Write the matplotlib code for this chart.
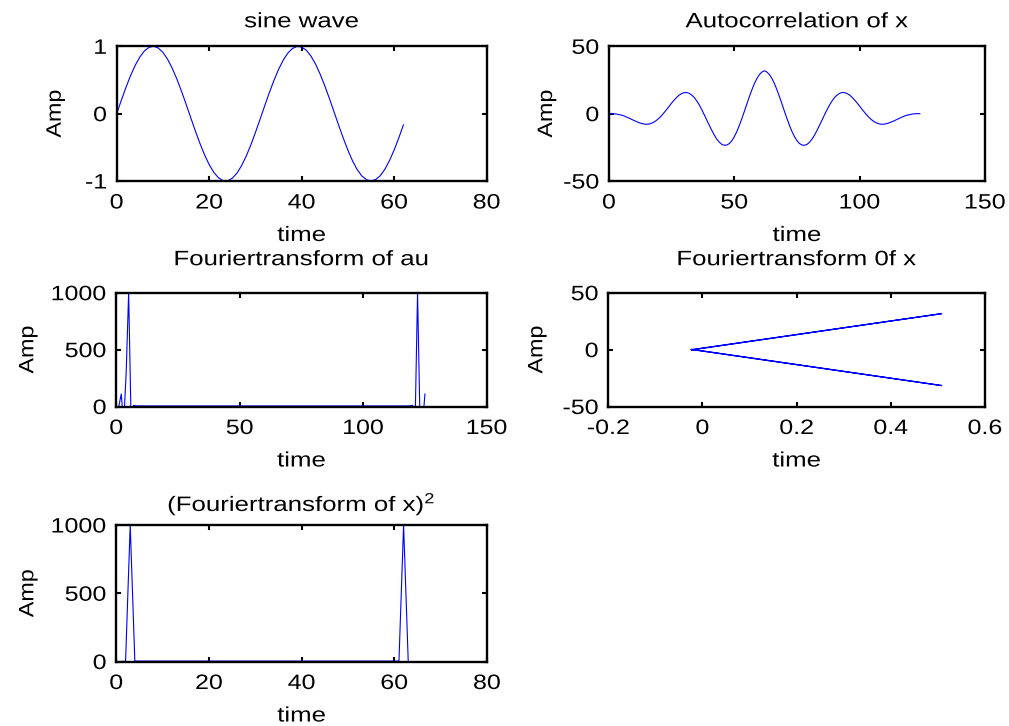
import matplotlib
matplotlib.use("Agg")
import matplotlib.pyplot as plt
from matplotlib.patheffects import AbstractPathEffect
from matplotlib.transforms import Affine2D

plt.rcParams['font.family'] = ['Liberation Sans', 'DejaVu Sans']
plt.rcParams['mathtext.default'] = 'regular'

# ---------------- data ----------------
# sine wave (samples 0..62)
sine_t = list(range(63))
sine_x = [0.0, 0.199, 0.389, 0.565, 0.717, 0.841, 0.932, 0.985, 1.0, 0.974,
          0.909, 0.808, 0.675, 0.516, 0.335, 0.141, -0.058, -0.256, -0.443, -0.612,
          -0.757, -0.872, -0.952, -0.994, -0.996, -0.959, -0.883, -0.772, -0.631, -0.465,
          -0.279, -0.083, 0.117, 0.312, 0.494, 0.657, 0.794, 0.899, 0.968, 0.998,
          0.989, 0.941, 0.855, 0.735, 0.585, 0.412, 0.223, 0.025, -0.174, -0.366,
          -0.544, -0.703, -0.831, -0.925, -0.981, -0.999, -0.978, -0.920, -0.823, -0.694,
          -0.537, -0.358, -0.166]

# autocorrelation, lags 0..62 (symmetric)
au_half = [31.8, 30.9, 29.0, 26.1, 22.3, 17.7, 12.6, 7.2, 1.7, -3.7,
           -8.7, -13.3, -17.1, -20.1, -22.2, -23.3, -23.5, -22.8, -21.2, -18.9,
           -15.9, -12.4, -8.6, -4.7, -0.8, 3.0, 6.5, 9.5, 12.0, 13.8,
           15.1, 15.7, 15.6, 14.9, 13.8, 12.1, 10.1, 7.9, 5.5, 3.1,
           0.8, -1.4, -3.3, -4.9, -6.2, -7.1, -7.7, -7.9, -7.7, -7.3,
           -6.7, -5.9, -5.1, -4.2, -3.3, -2.5, -1.7, -1.1, -0.7, -0.3,
           -0.1, 0.0, 0.0]
au = au_half[::-1][:-1] + au_half
au_t = list(range(len(au)))

# Fourier transform of the autocorrelation (125 bins, index 1..125)
fau_head = [0, 110, -150, 300, 1000, -150, 10, 6]
fau_mid_level = 5
fau_tail = [6, 10, -150, 1000, -150, -150, 110]
fau = fau_head + [fau_mid_level] * (125 - len(fau_head) - len(fau_tail)) + fau_tail
fau_t = list(range(1, 126))

# Fourier transform of x plotted as real vs imaginary part
fx_re = [-0.023, -0.022, 0.508, -0.024, -0.023, -0.023, -0.024, 0.508, -0.022, -0.023]
fx_im = [0.0, 0.2, -31.6, 0.1, 0.0, 0.0, -0.1, 31.6, -0.2, 0.0]

# squared magnitude of FFT of x (63 bins, index 1..63)
fx2_head = [0, 2, 1000, 3]
fx2_mid_level = 3
fx2_tail = [3, 1000, 1]
fx2 = fx2_head + [fx2_mid_level] * (63 - len(fx2_head) - len(fx2_tail)) + fx2_tail
fx2_t = list(range(1, 64))


# ---------------- helpers ----------------
class Stretch(AbstractPathEffect):
    """Widen glyphs along their baseline (reference font is wider than Arial)."""
    def __init__(self, sx, pivot='center'):
        super().__init__()
        self.sx = sx
        self.pivot = pivot

    def draw_path(self, renderer, gc, tpath, affine, rgbFace=None):
        ext = tpath.get_extents()
        if self.pivot == 'right':
            px = ext.x1
        elif self.pivot == 'left':
            px = ext.x0
        else:
            px = 0.5 * (ext.x0 + ext.x1)
        pre = Affine2D().translate(-px, 0).scale(self.sx, 1).translate(px, 0)
        renderer.draw_path(gc, tpath, pre + affine, rgbFace)


W, H = 1009, 726
fig = plt.figure(figsize=(W / 100, H / 100), dpi=100)

FS = 15
SX_TICK = 1.2
SX_TEXT = 1.24
BLUE = (0, 0, 1)


def axes_px(l, t, r, b):
    return fig.add_axes([l / W, 1 - b / H, (r - l) / W, (b - t) / H])


def style(ax, xlim, ylim, xticks, yticks, xtl, ytl, title, title_gap, ylab_x, xlab_gap):
    ax.set_xlim(*xlim)
    ax.set_ylim(*ylim)
    ax.set_xticks(xticks)
    ax.set_yticks(yticks)
    xl = ax.set_xticklabels(xtl, fontsize=FS)
    yl = ax.set_yticklabels(ytl, fontsize=FS)
    for t in xl:
        t.set_path_effects([Stretch(SX_TICK, 'center')])
    for t in yl:
        t.set_path_effects([Stretch(SX_TICK, 'right')])
    ax.tick_params(direction='in', top=True, right=True, length=3.5, width=1.5,
                   colors='black', labelcolor='black')
    ax.tick_params(axis='y', pad=7)
    ax.tick_params(axis='x', pad=9)
    for s in ax.spines.values():
        s.set_linewidth(1.7)
        s.set_color('black')
    bb = ax.get_position()
    hpx = bb.height * H
    wpx = bb.width * W
    tt = ax.set_title(title, fontsize=FS, pad=title_gap * 0.72)
    tt.set_path_effects([Stretch(SX_TEXT, 'center')])
    yla = ax.set_ylabel('Amp', fontsize=FS)
    yla.set_path_effects([Stretch(1.12, 'center')])
    ax.yaxis.set_label_coords(ylab_x / wpx, 0.5)
    xla = ax.set_xlabel('time', fontsize=FS)
    xla.set_path_effects([Stretch(SX_TEXT, 'center')])
    ax.xaxis.set_label_coords(0.5, -xlab_gap / hpx)


# panel 1
ax1 = axes_px(116.7, 46.3, 486.7, 181)
ax1.plot(sine_t, sine_x, color=BLUE, lw=0.8)
style(ax1, (0, 80), (-1, 1), [0, 20, 40, 60, 80], [-1, 0, 1],
      ['0', '20', '40', '60', '80'], ['-1', '0', '1'], 'sine wave', 19, -52, 45)

# panel 2
ax2 = axes_px(609, 46.3, 985, 181)
ax2.plot(au_t, au, color=BLUE, lw=0.8)
style(ax2, (0, 150), (-50, 50), [0, 50, 100, 150], [-50, 0, 50],
      ['0', '50', '100', '150'], ['-50', '0', '50'], 'Autocorrelation of x', 19, -53, 45)

# panel 3
ax3 = axes_px(116.3, 292.7, 486.7, 406.5)
ax3.plot(fau_t, fau, color=BLUE, lw=0.8)
style(ax3, (0, 150), (0, 1000), [0, 50, 100, 150], [0, 500, 1000],
      ['0', '50', '100', '150'], ['0', '500', '1000'], 'Fouriertransform of au', 27.5, -79, 45)

# panel 4
ax4 = axes_px(608.3, 292.7, 985, 406.5)
ax4.plot(fx_re, fx_im, color=BLUE, lw=0.9)
style(ax4, (-0.2, 0.6), (-50, 50), [-0.2, 0, 0.2, 0.4, 0.6], [-50, 0, 50],
      ['-0.2', '0', '0.2', '0.4', '0.6'], ['-50', '0', '50'], 'Fouriertransform 0f x', 27.5, -62, 45)

# panel 5
ax5 = axes_px(116.3, 525, 487, 661.5)
ax5.plot(fx2_t, fx2, color=BLUE, lw=0.8)
style(ax5, (0, 80), (0, 1000), [0, 20, 40, 60, 80], [0, 500, 1000],
      ['0', '20', '40', '60', '80'], ['0', '500', '1000'], '(Fouriertransform of x)$^2$', 14, -79, 45)

fig.savefig('out.png', dpi=100, facecolor='white')
